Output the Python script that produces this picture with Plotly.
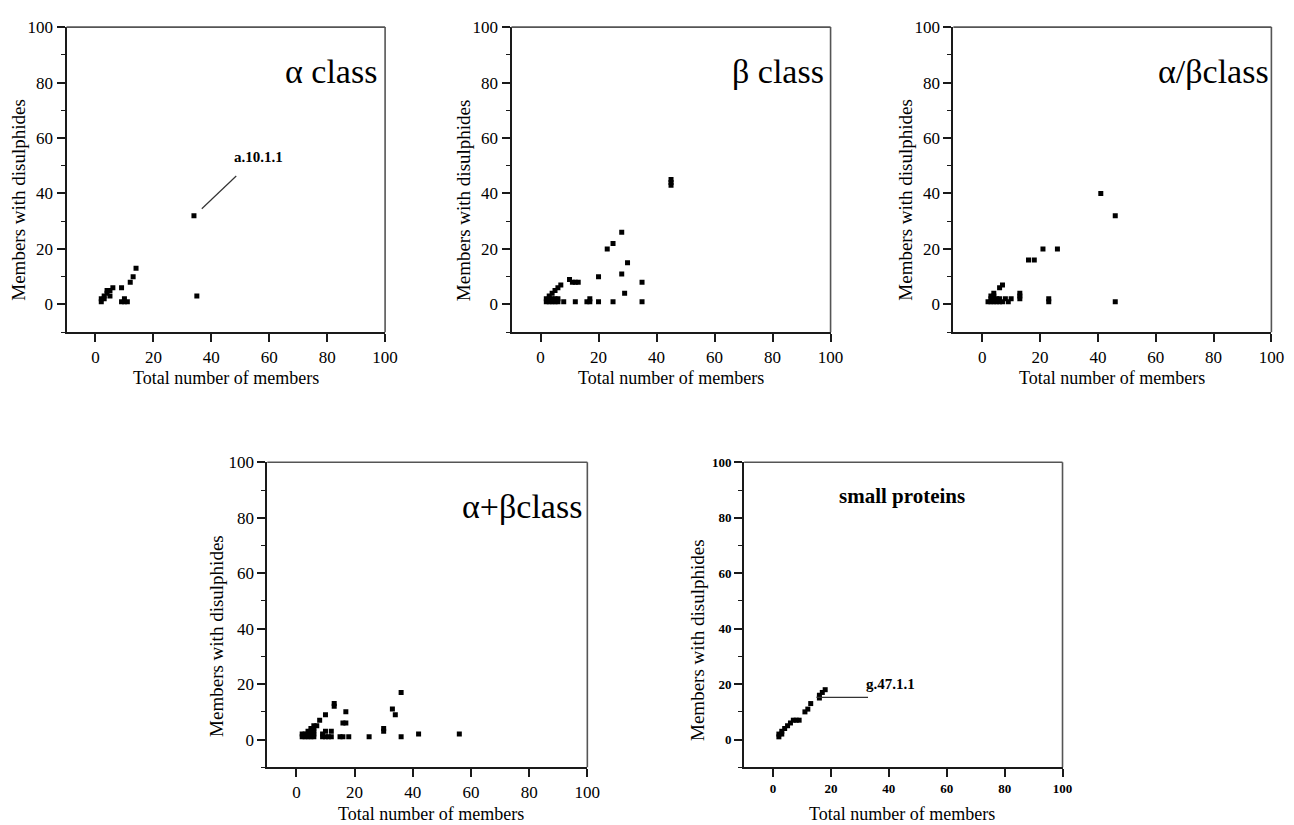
import plotly.graph_objects as go

# ---------------- data ----------------
alpha_x = [2, 2, 3, 3, 4, 4, 5, 5, 6, 9, 9, 10, 10, 11, 12, 13, 14, 34, 35]
alpha_y = [1, 2, 2, 3, 4, 5, 5, 3, 6, 6, 1, 1, 2, 1, 8, 10, 13, 32, 3]

beta_x = [2, 3, 4, 5, 6, 2, 3, 4, 5, 6, 3, 4, 5, 6, 7, 8, 10, 11, 12, 13, 12, 16, 17, 17,
          20, 20, 23, 25, 25, 28, 28, 29, 30, 35, 35, 45, 45, 45]
beta_y = [1, 1, 1, 1, 1, 2, 2, 2, 2, 2, 3, 4, 5, 6, 7, 1, 9, 8, 8, 8, 1, 1, 1, 2,
          1, 10, 20, 22, 1, 26, 11, 4, 15, 8, 1, 43, 44, 45]

ab_x = [2, 3, 4, 5, 6, 7, 3, 4, 5, 6, 8, 4, 4, 3, 6, 7, 9, 10, 13, 13, 13, 16, 18, 21,
        23, 23, 26, 41, 46, 46]
ab_y = [1, 1, 1, 1, 1, 1, 2, 2, 2, 2, 2, 3, 4, 3, 6, 7, 1, 2, 2, 3, 4, 16, 16, 20,
        1, 2, 20, 40, 32, 1]

apb_x = [2, 3, 4, 5, 6, 2, 3, 4, 5, 6, 4, 5, 6, 5, 6, 6, 7, 8, 10, 9, 10, 11, 12, 9, 10,
         12, 13, 13, 15, 16, 18, 16, 17, 17, 25, 30, 30, 33, 34, 36, 36, 42, 56]
apb_y = [1, 1, 1, 1, 1, 2, 2, 2, 2, 2, 3, 3, 3, 4, 4, 5, 5, 7, 9, 1, 1, 1, 1, 2, 3,
         3, 12, 13, 1, 1, 1, 6, 6, 10, 1, 3, 4, 11, 9, 17, 1, 2, 2]

small_x = [2, 2, 3, 3, 4, 5, 6, 7, 8, 9, 11, 12, 13, 16, 16, 17, 18]
small_y = [1, 2, 2, 3, 4, 5, 6, 7, 7, 7, 10, 11, 13, 15, 16, 17, 18]

tick_vals = [0, 20, 40, 60, 80, 100]
tick_text = ["0", "20", "40", "60", "80", "100"]

panel_titles = ["\u03b1 class", "\u03b2 class", "\u03b1/\u03b2class", "\u03b1+\u03b2class", "small proteins"]
x_title = "Total number of members"
y_title = "Members with disulphides"

# ---------------- layout helpers ----------------
W, H = 1294, 825
SERIF = "Liberation Serif, Times New Roman, serif"


def px(x):
    return x / W


def py(y):
    return 1 - y / H


# pixel boxes: left, right, top, bottom
boxes = [
    (67.2, 389.0, 18.3, 326.7),
    (516.7, 839.0, 18.3, 326.7),
    (963.0, 1284.3, 18.3, 326.7),
    (270.0, 593.3, 458.3, 766.7),
    (751.7, 1073.3, 458.3, 766.7),
]

series = [(alpha_x, alpha_y), (beta_x, beta_y), (ab_x, ab_y), (apb_x, apb_y), (small_x, small_y)]

fig = go.Figure()
layout = dict(
    width=W, height=H, margin=dict(l=0, r=0, t=0, b=0),
    paper_bgcolor="white", plot_bgcolor="white", showlegend=False,
    font=dict(family=SERIF, color="black"),
)

shapes = []
for i, ((xs, ys), (l, r, t, b)) in enumerate(zip(series, boxes)):
    n = "" if i == 0 else str(i + 1)
    small = (i == 4)
    fig.add_trace(go.Scatter(
        x=xs, y=ys, mode="markers", xaxis="x" + n, yaxis="y" + n,
        marker=dict(symbol="square", size=5, color="black", line=dict(width=0)),
        hoverinfo="x+y",
    ))
    tf = dict(family=SERIF, size=13 if small else 17, color="black",
              weight="bold" if small else "normal")
    common = dict(
        range=[-10, 100], showline=True, linecolor="#1a1a1a", linewidth=2,
        mirror=False, showgrid=False, zeroline=False,
        tickvals=tick_vals, ticktext=tick_text, ticks="outside",
        ticklen=8, tickwidth=1.6, tickcolor="#1a1a1a", tickfont=tf,
    )
    layout["xaxis" + n] = dict(common, domain=[px(l), px(r)], anchor="y" + n)
    layout["yaxis" + n] = dict(
        common, domain=[py(b), py(t)], anchor="x" + n,
        minor=dict(dtick=10, tick0=0, ticks="outside", ticklen=4,
                   tickwidth=1.2, tickcolor="#1a1a1a"),
    )
    # top and right frame lines (thinner, grey)
    shapes.append(dict(type="line", xref="paper", yref="paper",
                       x0=px(l), x1=px(r), y0=py(t), y1=py(t),
                       line=dict(color="#555", width=1.6)))
    shapes.append(dict(type="line", xref="paper", yref="paper",
                       x0=px(r), x1=px(r), y0=py(t), y1=py(b),
                       line=dict(color="#555", width=1.6)))

fig.update_layout(**layout)

anns = []
# axis titles (pixel positions)
xt = [(228, 373), (678, 373), (1123, 373), (435, 814), (911, 814)]
yt = [(19, 193), (469, 193), (915, 193), (218, 634), (704, 638)]
for i in range(5):
    anns.append(dict(x=px(xt[i][0]), y=py(xt[i][1]), xref="paper", yref="paper",
                     text=x_title, showarrow=False, xanchor="center", yanchor="middle",
                     font=dict(family=SERIF, size=18, color="black")))
    anns.append(dict(x=px(yt[i][0]), y=py(yt[i][1]), xref="paper", yref="paper",
                     text=y_title, showarrow=False, textangle=-90,
                     xanchor="center", yanchor="middle",
                     font=dict(family=SERIF, size=19, color="black")))

# class titles
title_pos = [("x", "y", 98, 84), ("x2", "y2", 98.5, 84), ("x3", "y3", 100, 84), ("x4", "y4", 99, 84)]
for (xr, yr, xv, yv), txt in zip(title_pos, panel_titles[:4]):
    anns.append(dict(x=xv, y=yv, xref=xr, yref=yr, text=txt, showarrow=False,
                     xanchor="right", yanchor="middle",
                     font=dict(family=SERIF, size=34, color="black")))
anns.append(dict(x=44.5, y=88, xref="x5", yref="y5", text="<b>" + panel_titles[4] + "</b>",
                 showarrow=False, xanchor="center", yanchor="middle",
                 font=dict(family=SERIF, size=21, color="black")))

# labelled families
anns.append(dict(x=47.0, y=53, xref="x", yref="y", text="<b>a.10.1.1</b>", showarrow=False,
                 xanchor="left", yanchor="middle", font=dict(family=SERIF, size=15, color="black")))
anns.append(dict(x=31.5, y=20, xref="x5", yref="y5", text="<b>g.47.1.1</b>", showarrow=False,
                 xanchor="left", yanchor="middle", font=dict(family=SERIF, size=15, color="black")))

shapes.append(dict(type="line", xref="x", yref="y", x0=36.7, y0=34.5, x1=48.6, y1=46.3,
                   line=dict(color="#333", width=1.2)))
shapes.append(dict(type="line", xref="x5", yref="y5", x0=15, y0=15.2, x1=32.8, y1=15.2,
                   line=dict(color="#333", width=1.2)))

fig.update_layout(annotations=anns, shapes=shapes)

# remove the browser's default 8px page margin so the figure sits at the window origin
fig.write_html("out.html",
               config={"displayModeBar": False},
               post_script="document.body.style.margin='0';document.body.style.overflow='hidden';")
